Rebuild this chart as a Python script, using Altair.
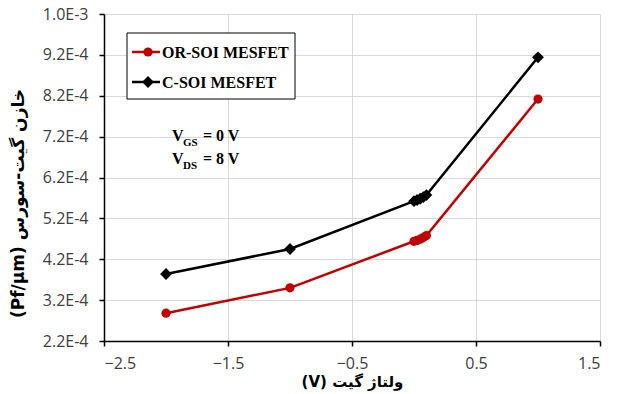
import altair as alt
import pandas as pd

# ---- data ----
vgs = [-2, -1, 0, 0.025, 0.05, 0.075, 0.1, 1]
or_soi = [2.88e-4, 3.50e-4, 4.64e-4, 4.66e-4, 4.69e-4, 4.73e-4, 4.78e-4, 8.12e-4]
c_soi = [3.84e-4, 4.45e-4, 5.62e-4, 5.65e-4, 5.68e-4, 5.72e-4, 5.77e-4, 9.14e-4]
series_names = ["OR-SOI MESFET", "C-SOI MESFET"]
series_colors = ["#C00000", "#000000"]
series_shapes = ["circle", "diamond"]
series_sizes = [85, 140]
x_ticks = [-2.5, -1.5, -0.5, 0.5, 1.5]
y_ticks = [2.2e-4, 3.2e-4, 4.2e-4, 5.2e-4, 6.2e-4, 7.2e-4, 8.2e-4, 9.2e-4, 10.2e-4]
x_title = "(V) ولتاژ گیت"
y_title = "(Pf/µm) خازن گیت-سورس"

rows = []
for v, a, b in zip(vgs, or_soi, c_soi):
    rows.append({"x": v, "y": a, "series": series_names[0]})
    rows.append({"x": v, "y": b, "series": series_names[1]})
df = pd.DataFrame(rows)

W, H = 496, 327
LABEL_FONT = "Open Sans"
SERIF = "Liberation Serif"

xenc = alt.X("x:Q", scale=alt.Scale(domain=[-2.5, 1.5], nice=False, zero=False),
             axis=alt.Axis(values=x_ticks, title=x_title, format=".1f",
                           labelPadding=9, tickSize=5, labelFontSize=16, labelFont=LABEL_FONT,
                           titleFontSize=15, titleY=33, titleBaseline="top"))
yenc = alt.Y("y:Q", scale=alt.Scale(domain=[2.2e-4, 10.2e-4], nice=False, zero=False),
             axis=alt.Axis(values=y_ticks, title=y_title,
                           labelExpr="replace(format(datum.value, '.1e'), 'e', 'E')",
                           labelPadding=11, tickSize=5, labelFontSize=16, labelFont=LABEL_FONT,
                           titleX=-77, titleY=189, titleFontSize=17))
cenc = alt.Color("series:N", scale=alt.Scale(domain=series_names, range=series_colors), legend=None)
senc = alt.Shape("series:N", scale=alt.Scale(domain=series_names, range=series_shapes), legend=None)
zenc = alt.Size("series:N", scale=alt.Scale(domain=series_names, range=series_sizes), legend=None)

base = alt.Chart(df)
lines = base.mark_line(strokeWidth=2.5).encode(x=xenc, y=yenc, color=cenc)
points = base.mark_point(filled=True, opacity=1).encode(x=xenc, y=yenc, color=cenc, shape=senc, size=zenc)

# ---- manual legend ----
one = pd.DataFrame({"a": [0]})
legend_box = alt.Chart(one).mark_rect(fill="white", stroke="black", strokeWidth=1).encode(
    x=alt.value(23), x2=alt.value(191), y=alt.value(19), y2=alt.value(85))
legend_layers = [legend_box]
for i, (name, col, shp, sz) in enumerate(zip(series_names, series_colors, series_shapes, series_sizes)):
    ly = 38 + i * 30
    d = pd.DataFrame({"label": [name]})
    legend_layers.append(alt.Chart(d).mark_rule(color=col, strokeWidth=2.5).encode(
        x=alt.value(28), x2=alt.value(56), y=alt.value(ly)))
    legend_layers.append(alt.Chart(d).mark_point(filled=True, size=sz, opacity=1, color=col, shape=shp).encode(
        x=alt.value(44), y=alt.value(ly)))
    legend_layers.append(alt.Chart(d).mark_text(align="left", baseline="middle", font=SERIF,
                                                fontWeight="bold", fontSize=16, color="black").encode(
        x=alt.value(58), y=alt.value(ly + 1), text="label:N"))

# ---- annotation V_GS = 0 V, V_DS = 8 V ----
ann_main = ["V", "V"]
ann_sub = ["GS", "DS"]
ann_rest = ["= 0 V", "= 8 V"]
ann_layers = []
for i in range(2):
    by = 127 + i * 23
    d = pd.DataFrame({"m": [ann_main[i]], "s": [ann_sub[i]], "r": [ann_rest[i]]})
    ann_layers.append(alt.Chart(d).mark_text(align="left", baseline="alphabetic", font=SERIF,
                                             fontWeight="bold", fontSize=16, color="black").encode(
        x=alt.value(68), y=alt.value(by), text="m:N"))
    ann_layers.append(alt.Chart(d).mark_text(align="left", baseline="alphabetic", font=SERIF,
                                             fontWeight="bold", fontSize=11, color="black").encode(
        x=alt.value(79), y=alt.value(by + 5), text="s:N"))
    ann_layers.append(alt.Chart(d).mark_text(align="left", baseline="alphabetic", font=SERIF,
                                             fontWeight="bold", fontSize=16, color="black").encode(
        x=alt.value(99), y=alt.value(by), text="r:N"))

chart = alt.layer(lines, points, *legend_layers, *ann_layers).properties(
    width=W, height=H,
    autosize=alt.AutoSizeParams(type="none"),
    padding={"left": 104, "top": 14, "right": 18, "bottom": 53},
    background="white",
).configure_view(stroke=None).configure_axis(
    domainColor="black", domainWidth=1.5, tickColor="black", tickWidth=1.5,
    gridColor="#D9D9D9", gridWidth=1,
    labelColor="#404040",
    titleFont="DejaVu Sans", titleFontWeight="bold", titleColor="black",
)

chart.save("out.html", embed_options={"renderer": "svg", "actions": False})
